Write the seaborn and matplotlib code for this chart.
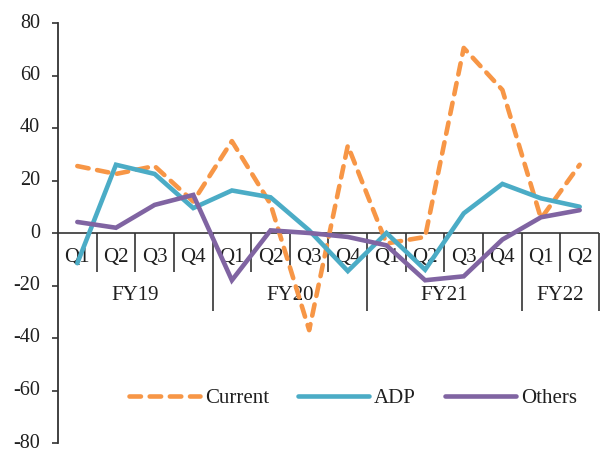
import matplotlib
matplotlib.use("Agg")
import matplotlib.pyplot as plt
import numpy as np
import pandas as pd
import seaborn as sns

# Quarterly growth by component (%)
years = ["FY19", "FY20", "FY21", "FY22"]
quarters_per_year = [4, 4, 4, 2]
quarter_labels = ["Q1", "Q2", "Q3", "Q4"] * 3 + ["Q1", "Q2"]
current = [25.5, 22.5, 25.5, 12.0, 35.0, 11.0, -37.0, 33.3, -4.0, -1.5, 70.5, 54.5, 5.5, 26.0]
adp = [-11.5, 26.0, 22.5, 9.5, 16.2, 13.6, 1.0, -14.5, 0.0, -14.0, 7.5, 18.7, 13.2, 10.0]
others = [4.2, 2.0, 10.7, 14.5, -18.0, 1.0, 0.0, -1.5, -4.7, -18.0, -16.5, -2.5, 6.0, 8.7]
series_names = ["Current", "ADP", "Others"]
y_ticks = [-80, -60, -40, -20, 0, 20, 40, 60, 80]

colors = {"Current": "#F79646", "ADP": "#4BACC6", "Others": "#8064A2"}
text_color = "#1f1f1f"
dash_pattern = (2.5, 1.9)
lw = 3.3

sns.set_theme(style="white")
plt.rcParams["font.family"] = ["Liberation Serif", "DejaVu Serif"]

n = len(quarter_labels)
idx = np.arange(n)
df = pd.concat(
    [pd.DataFrame({"idx": idx, "value": vals, "series": name})
     for name, vals in zip(series_names, [current, adp, others])],
    ignore_index=True,
)

fig = plt.figure(figsize=(6.0, 4.53), dpi=100)
ax = fig.add_axes([58 / 600, 10 / 453, 541 / 600, 420 / 453])

sns.lineplot(
    data=df, x="idx", y="value", hue="series", style="series",
    hue_order=series_names, style_order=series_names,
    palette=colors,
    dashes={"Current": dash_pattern, "ADP": "", "Others": ""},
    linewidth=lw, ax=ax, legend=False, zorder=3,
)
for line in ax.get_lines():
    line.set_dash_capstyle("round")
    line.set_solid_capstyle("round")
    line.set_solid_joinstyle("miter")

ax.set_xlim(-0.5, n - 0.5)
ax.set_ylim(-80, 80)
ax.set_xlabel("")
ax.set_ylabel("")
ax.set_xticks([])
ax.set_yticks(y_ticks)
ax.set_yticklabels([str(v) for v in y_ticks])
ax.tick_params(axis="y", which="both", direction="out", length=4.5, width=1.2,
               color="#333333", pad=8.5, labelsize=14.5, labelcolor=text_color, left=True)
for lab in ax.get_yticklabels():
    lab.set_verticalalignment("center")

for side in ["top", "right", "bottom"]:
    ax.spines[side].set_visible(False)
ax.spines["left"].set_color("#333333")
ax.spines["left"].set_linewidth(1.3)

# Category axis drawn along y = 0
axis_kw = dict(color="#333333", linewidth=1.2, zorder=2)
ax.axhline(0, **axis_kw)
year_edges = np.cumsum(quarters_per_year) - 0.5
quarter_edges = [e for e in np.arange(0.5, n, 1.0) if e not in set(year_edges)]
ax.vlines(quarter_edges, -14.8, 0, **axis_kw)
ax.vlines(list(year_edges), -29.7, 0, clip_on=False, **axis_kw)

for i, q in enumerate(quarter_labels):
    ax.text(i, -9.3, q, ha="center", va="center", fontsize=15, color=text_color, zorder=1)

start = -0.5
for year, count in zip(years, quarters_per_year):
    ax.text(start + count / 2, -24.0, year, ha="center", va="center",
            fontsize=15, color=text_color, zorder=1)
    start += count

# Legend
handles = [
    plt.Line2D([], [], color=colors["Current"], lw=lw, dashes=dash_pattern,
               dash_capstyle="round"),
    plt.Line2D([], [], color=colors["ADP"], lw=lw, solid_capstyle="round"),
    plt.Line2D([], [], color=colors["Others"], lw=lw, solid_capstyle="round"),
]
leg = fig.legend(
    handles, series_names, loc="center", bbox_to_anchor=(353 / 600, 1 - 398 / 453),
    ncol=3, frameon=False, fontsize=15, handlelength=3.4, handletextpad=0.25,
    columnspacing=1.4, labelcolor=text_color,
)

fig.savefig("out.png", dpi=100)
